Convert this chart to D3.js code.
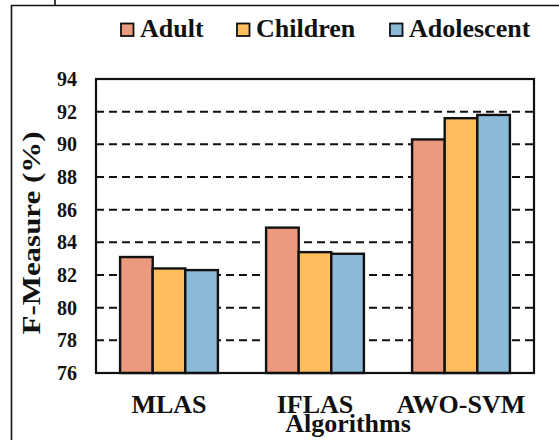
<!DOCTYPE html>
<html><head><meta charset="utf-8">
<script src="https://cdn.jsdelivr.net/npm/d3@7"></script>
<style>
html,body{margin:0;padding:0;background:#fff;}
svg{display:block;}
</style></head>
<body>
<script>
const categories = ["MLAS", "IFLAS", "AWO-SVM"];
const seriesNames = ["Adult", "Children", "Adolescent"];
const adult = [83.1, 84.9, 90.3];
const children = [82.4, 83.4, 91.6];
const adolescent = [82.3, 83.3, 91.8];
const yTicks = [76, 78, 80, 82, 84, 86, 88, 90, 92, 94];
const colors = ["#EC9A7D", "#FEBE5D", "#8CB9D5"];
const seriesValues = [adult, children, adolescent];

const FONT = "'Liberation Serif', 'Times New Roman', Tinos, 'DejaVu Serif', serif";
const W = 559, H = 440;
const svg = d3.select("body").append("svg").attr("width", W).attr("height", H);

// outer frame
svg.append("path").attr("d", "M11.5,440 L11.5,5.5 L559,5.5").attr("fill", "none").attr("stroke", "#111").attr("stroke-width", 1.6);
svg.append("line").attr("x1", 55).attr("x2", 55).attr("y1", 0).attr("y2", 5.5).attr("stroke", "#111").attr("stroke-width", 1.6);

const L = 96, R = 534, T = 79, B = 373;
const y = d3.scaleLinear().domain([76, 94]).range([B, T]);
const x0 = d3.scaleBand().domain(categories).range([L, R]).paddingInner(0.33).paddingOuter(0.165);
const x1 = d3.scaleBand().domain(seriesNames).range([0, x0.bandwidth()]).padding(0);

// gridlines
svg.append("g").selectAll("line").data(yTicks.filter(t => t > 76 && t < 94)).join("line")
  .attr("x1", L).attr("x2", R).attr("y1", d => y(d)).attr("y2", d => y(d))
  .attr("stroke", "#111").attr("stroke-width", 2).attr("stroke-dasharray", "8,5");

// bars
const rows = [];
categories.forEach((c, i) => seriesNames.forEach((s, j) => rows.push({c, s, j, v: seriesValues[j][i]})));
svg.append("g").selectAll("rect").data(rows).join("rect")
  .attr("x", d => x0(d.c) + x1(d.s))
  .attr("y", d => y(d.v))
  .attr("width", x1.bandwidth())
  .attr("height", d => B - y(d.v))
  .attr("fill", d => colors[d.j])
  .attr("stroke", "#111").attr("stroke-width", 2.4);

// plot border
svg.append("rect").attr("x", L).attr("y", T).attr("width", R - L).attr("height", B - T)
  .attr("fill", "none").attr("stroke", "#111").attr("stroke-width", 2.2);

function styleText(sel, size) {
  sel.style("font-family", FONT).style("font-weight", "bold").style("font-size", size + "px").style("fill", "#111");
}

// y axis labels
const yAxis = d3.axisLeft(y).tickValues(yTicks).tickSize(0).tickPadding(19).tickFormat(d3.format("d"));
const gy = svg.append("g").attr("transform", `translate(${L},0)`).call(yAxis);
gy.attr("font-family", null).attr("font-size", null);
gy.select(".domain").remove();
styleText(gy.selectAll("text"), 20);

// x axis labels
const xAxis = d3.axisBottom(x0).tickSize(0).tickPadding(0);
const gx = svg.append("g").attr("transform", `translate(0,${B})`).call(xAxis);
gx.attr("font-family", null).attr("font-size", null);
gx.select(".domain").remove();
gx.selectAll("text").attr("dy", null).attr("y", 39.5);
styleText(gx.selectAll("text"), 26);

// axis titles
styleText(svg.append("text").attr("x", 348).attr("y", 432).attr("text-anchor", "middle").text("Algorithms"), 26);
styleText(svg.append("text").attr("transform", "translate(40,233) rotate(-90)").attr("text-anchor", "middle")
  .attr("textLength", 203).attr("lengthAdjust", "spacingAndGlyphs").text("F-Measure (%)"), 25);

// legend
const legX = [121, 237, 390];
const lg = svg.append("g").selectAll("g").data(seriesNames).join("g")
  .attr("transform", (d, i) => `translate(${legX[i]},23.5)`);
lg.append("rect").attr("width", 12.5).attr("height", 12.5).attr("fill", (d, i) => colors[i]).attr("stroke", "#111").attr("stroke-width", 1.8);
styleText(lg.append("text").attr("x", 19).attr("y", 13.3).text(d => d), 26);
</script>
</body></html>
